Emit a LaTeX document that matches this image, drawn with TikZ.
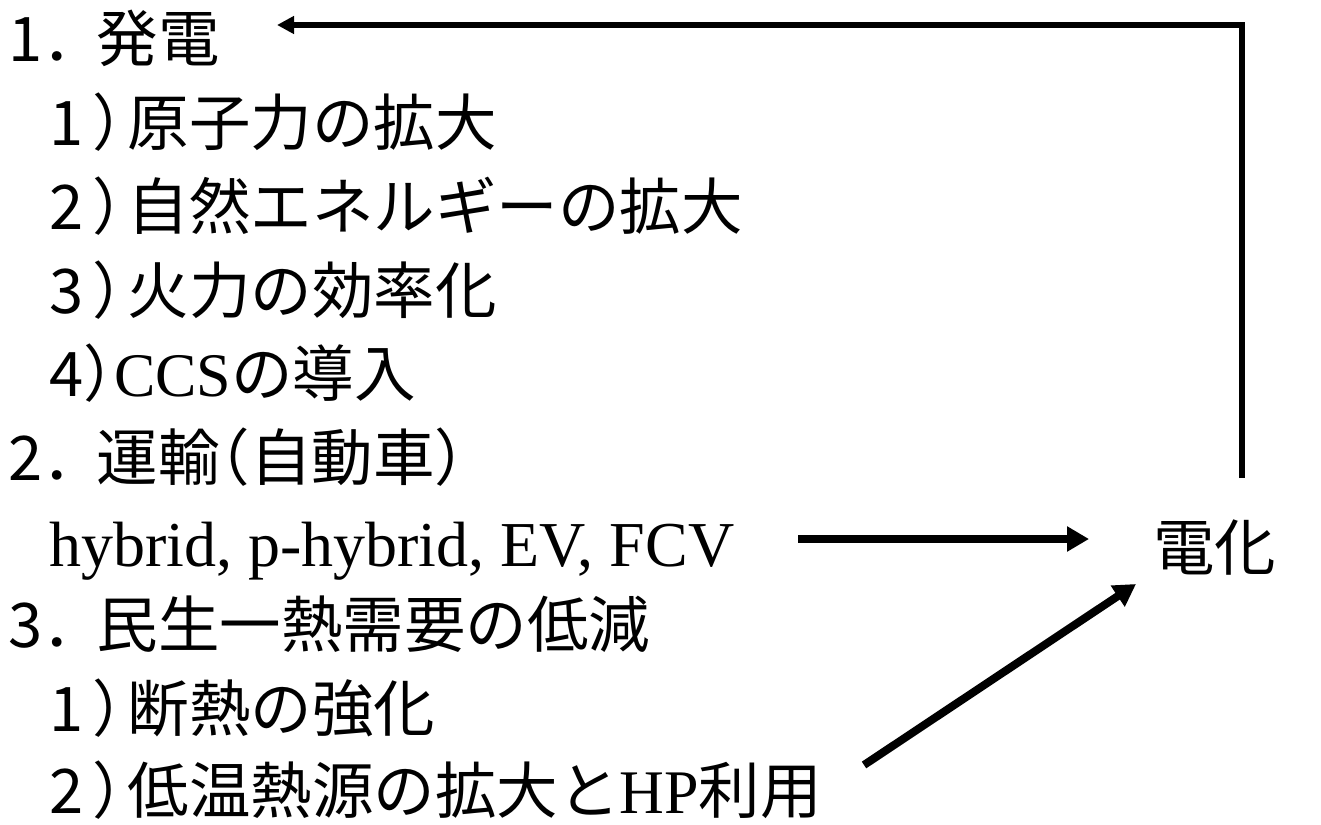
\documentclass[tikz,border=0pt]{standalone}
\usepackage{fontspec}
\setmainfont{Liberation Serif}
\newfontfamily\jpf{Noto Sans CJK JP}
\usetikzlibrary{arrows.meta}
\newcommand\rp{\kern0.15em）\kern-0.43em}
\newcommand\rpl{{\addfontfeatures{RawFeature=+halt}）}}
\newcommand\lp{\kern-0.5em（}
\newcommand\dt{．\kern-0.12em}
\newcommand\lat[1]{\smash{\rmfamily\fontsize{62}{64}\selectfont #1}}
\begin{document}
\begin{tikzpicture}[x=1pt,y=-1pt,
  txt/.style={anchor=base west, inner sep=0pt, font=\jpf\fontsize{61.5}{70}\selectfont},
  lat/.style={anchor=base west, inner sep=0pt, font=\rmfamily\fontsize{64}{70}\selectfont},
  thinarr/.style={line width=6pt, -{Triangle[length=17pt,width=17pt]}},
  thickarr/.style={line width=8pt, -{Triangle[length=22pt,width=24pt]}}]
\useasboundingbox (0,0) rectangle (1321,824);
\def\lh{83.7}
\node[txt] (l0) at (8, 61.9) {1\dt 発電};
\node[txt] (l1) at (49, 61.9+\lh) {1\rp 原子力の拡大};
\node[txt] (l2) at (49, 61.9+2*\lh) {2\rp 自然エネルギーの拡大};
\node[txt] (l3) at (49, 61.9+3*\lh) {3\rp 火力の効率化};
\node[txt] (l4) at (49, 61.9+4*\lh) {4\rpl\lat{CCS}の導入};
\node[txt] (l5) at (8, 61.9+5*\lh) {2\dt 運輸\lp 自動車）};
\node[lat] (l6) at (49, 566) {hybrid, p-hybrid, EV, FCV};
\node[txt] (l7) at (8, 61.9+7*\lh) {3\dt 民生一熱需要の低減};
\node[txt] (l8) at (49, 61.9+8*\lh) {1\rp 断熱の強化};
\node[txt] (l9) at (49, 60.5+9*\lh) {2\rp 低温熱源の拡大と\lat{HP}利用};
\node[txt] (den) at (1153, 570) {電化};
\coordinate (upS) at (1242, 478);
\coordinate (upC) at (1242, 25);
\coordinate (upE) at (277, 25);
\coordinate (hS) at (798, 539);
\coordinate (hE) at (1089, 539);
\coordinate (dS) at (864, 765);
\coordinate (dE) at (1136, 584);
\draw[thinarr] (upS) -- (upC) -- (upE);
\draw[thickarr] (hS) -- (hE);
\draw[thickarr] (dS) -- (dE);
\end{tikzpicture}
\end{document}
